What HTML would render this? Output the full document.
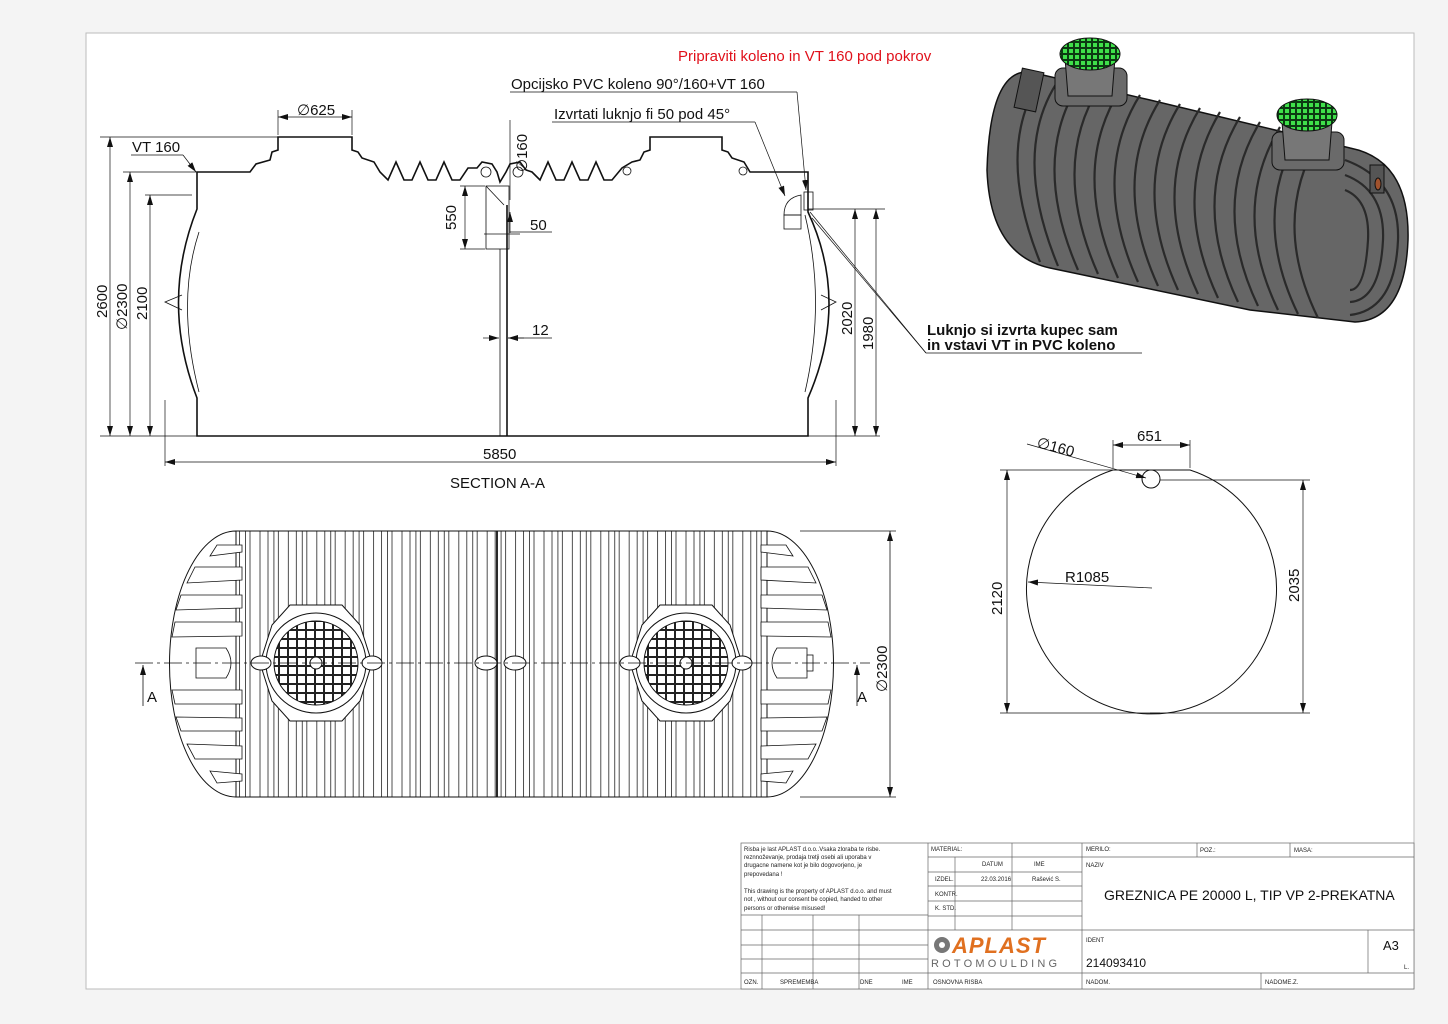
<!DOCTYPE html>
<html><head><meta charset="utf-8"><style>
html,body{margin:0;padding:0;background:#f4f4f4;}
svg{display:block;font-family:"Century Gothic","Liberation Sans",sans-serif;}
</style></head><body>
<svg width="1448" height="1024" viewBox="0 0 1448 1024" xmlns="http://www.w3.org/2000/svg">
<defs>
<pattern id="ribs" x="245" y="0" width="28.4" height="400" patternUnits="userSpaceOnUse">
<rect width="28.4" height="400" fill="#fff"/>
<g stroke="#222" stroke-width="0.8" fill="none">
<line x1="0.5" y1="0" x2="0.5" y2="400"/><line x1="5" y1="0" x2="5" y2="400"/>
<line x1="15" y1="0" x2="15" y2="400"/>
<line x1="23" y1="0" x2="23" y2="400"/>
</g></pattern>
<pattern id="grid" x="0" y="0" width="9" height="9" patternUnits="userSpaceOnUse">
<rect width="9" height="9" fill="#222"/><rect x="1" y="1" width="7" height="7" fill="#fff"/>
</pattern>
<pattern id="ggrid" x="0" y="0" width="6" height="6" patternUnits="userSpaceOnUse">
<rect width="6" height="6" fill="#0c3a12"/><rect x="1" y="1" width="4" height="4" fill="#3fe04a"/>
</pattern>
<marker id="ar" markerWidth="10" markerHeight="6" refX="10" refY="3" orient="auto-start-reverse" markerUnits="userSpaceOnUse"><path d="M0,0 L10,3 L0,6 Z" fill="#111"/></marker>
</defs>

<rect x="0" y="0" width="1448" height="1024" fill="#f4f4f4"/>
<rect x="86" y="33" width="1328" height="956" fill="#fff" stroke="#bbb" stroke-width="1"/>

<!-- ============ SECTION A-A ============ -->
<g fill="none" stroke="#111" stroke-width="1.6">
<path d="M197,436 L197,398 Q160,302 197,209 L197,172 L250,172 L256,164 L270,160 L272,152 L278,150 L278,137 L352,137 L352,150 L358,152 L362,158 L374,162 L380,172 L388,180 L396,162 L404,180 L412,180 L420,162 L428,180 L436,180 L444,162 L452,180 L460,180 L468,168 L477,168 L482,162 L492,164 L497,172 L500,182 L506,172 L510,164 L520,162 L526,170 L532,172 L540,180 L548,162 L556,180 L564,180 L572,162 L580,180 L588,180 L596,162 L604,180 L612,180 L622,168 L632,162 L640,160 L644,152 L650,150 L650,137 L722,137 L722,150 L728,152 L732,158 L744,162 L750,172 L808,172 L808,212 Q850,302 808,398 L808,436 Z"/>
</g>
<g fill="none" stroke="#111" stroke-width="0.8">
<path d="M199,232 Q176,302 199,392"/>
<path d="M805,215 Q826,302 805,392"/>
<path d="M182,295 L165,302 L182,310"/>
<path d="M821,295 L836,302 L821,310"/>
<circle cx="486" cy="172" r="5"/><circle cx="518" cy="172" r="5"/>
<circle cx="627" cy="171" r="4"/><circle cx="743" cy="171" r="4"/>
<rect x="486" y="186" width="23" height="63"/>
<line x1="486" y1="186" x2="504" y2="205"/>
<line x1="500" y1="249" x2="500" y2="436"/><line x1="507" y1="205" x2="507" y2="436" stroke-width="1.6"/>
<path d="M784,215 Q784,198 801,195 L801,215 Z"/><rect x="784" y="215" width="17" height="14"/>
<rect x="804" y="192" width="9" height="18"/>
</g>
<!-- section dims -->
<g stroke="#111" stroke-width="0.7" fill="none">
<line x1="100" y1="137" x2="278" y2="137"/><line x1="110" y1="137" x2="110" y2="436" marker-start="url(#ar)" marker-end="url(#ar)"/>
<line x1="123" y1="172" x2="197" y2="172"/><line x1="130" y1="172" x2="130" y2="436" marker-start="url(#ar)" marker-end="url(#ar)"/>
<line x1="145" y1="195" x2="192" y2="195"/><line x1="150" y1="195" x2="150" y2="436" marker-start="url(#ar)" marker-end="url(#ar)"/>
<line x1="100" y1="436" x2="197" y2="436"/>
<line x1="165" y1="400" x2="165" y2="466"/><line x1="836" y1="400" x2="836" y2="466"/>
<line x1="165" y1="462" x2="836" y2="462" marker-start="url(#ar)" marker-end="url(#ar)"/>
<line x1="278" y1="110" x2="278" y2="135"/><line x1="352" y1="110" x2="352" y2="135"/>
<line x1="278" y1="117" x2="352" y2="117" marker-start="url(#ar)" marker-end="url(#ar)"/>
<line x1="131" y1="155" x2="183" y2="155"/><line x1="183" y1="155" x2="196" y2="172" marker-end="url(#ar)"/>
<line x1="460" y1="186" x2="485" y2="186"/><line x1="460" y1="249" x2="485" y2="249"/>
<line x1="465" y1="186" x2="465" y2="249" marker-start="url(#ar)" marker-end="url(#ar)"/>
<line x1="510" y1="200" x2="510" y2="120"/><line x1="510" y1="233" x2="510" y2="212" marker-end="url(#ar)"/>
<line x1="510" y1="232" x2="552" y2="232"/>
<line x1="484" y1="234" x2="520" y2="234"/>
<line x1="483" y1="338" x2="499" y2="338" marker-end="url(#ar)"/><line x1="524" y1="338" x2="508" y2="338" marker-end="url(#ar)"/><line x1="508" y1="338" x2="552" y2="338"/>
<line x1="808" y1="209" x2="885" y2="209"/>
<line x1="855" y1="209" x2="855" y2="436" marker-start="url(#ar)" marker-end="url(#ar)"/>
<line x1="876" y1="209" x2="876" y2="436" marker-start="url(#ar)" marker-end="url(#ar)"/>
<line x1="808" y1="436" x2="880" y2="436"/>
<line x1="510" y1="92" x2="797" y2="92"/><line x1="797" y1="92" x2="806" y2="190" marker-end="url(#ar)"/>
<line x1="552" y1="122" x2="755" y2="122"/><line x1="755" y1="122" x2="785" y2="196" marker-end="url(#ar)"/>
<line x1="1142" y1="353" x2="926" y2="353"/><line x1="926" y1="353" x2="810" y2="212"/><line x1="926" y1="353" x2="812" y2="218"/>
</g>
<g font-size="15" fill="#111">
<text x="297" y="115">∅625</text>
<text x="132" y="152">VT 160</text>
<text x="511" y="89">Opcijsko PVC koleno 90°/160+VT 160</text>
<text x="554" y="119">Izvrtati luknjo fi 50 pod 45°</text>
<text x="678" y="61" fill="#e0101a">Pripraviti koleno in VT 160 pod pokrov</text>
<text x="530" y="230">50</text><text x="532" y="335">12</text>
<text x="483" y="459">5850</text>
<text x="450" y="488">SECTION A-A</text>
<text transform="translate(107,318) rotate(-90)">2600</text>
<text transform="translate(127,330) rotate(-90)">∅2300</text>
<text transform="translate(147,320) rotate(-90)">2100</text>
<text transform="translate(456,230) rotate(-90)">550</text>
<text transform="translate(527,172) rotate(-90)">∅160</text>
<text transform="translate(852,335) rotate(-90)">2020</text>
<text transform="translate(873,350) rotate(-90)">1980</text>
</g>
<g font-size="15" font-weight="bold" fill="#111">
<text x="927" y="335">Luknjo si izvrta kupec sam</text>
<text x="927" y="350">in vstavi VT in PVC koleno</text>
</g>

<!-- ============ PLAN VIEW ============ -->
<g stroke="#111" stroke-width="1" fill="#fff">
<path d="M236,531 A66,132 0 0 0 236,797 Z"/>
<path d="M767,531 A66,132 0 0 1 767,797 Z"/>
<rect x="236" y="531" width="531" height="266" fill="url(#ribs)"/>
<line x1="497" y1="531" x2="497" y2="797" stroke-width="1.8"/>
</g>
<g stroke="#111" stroke-width="0.8" fill="#fff">
<path d="M217,545 L242,545 L242,552 L210,556 Z"/>
<path d="M195,567 L242,567 L242,580 L187,583 Z"/>
<path d="M181,595 L242,595 L242,608 L176,610 Z"/>
<path d="M175,622 L242,622 L242,636 L172,637 Z"/>
<path d="M172,690 L242,690 L242,704 L175,704 Z"/>
<path d="M176,717 L242,718 L242,731 L181,731 Z"/>
<path d="M187,744 L242,746 L242,759 L195,759 Z"/>
<path d="M210,771 L242,774 L242,781 L217,783 Z"/>
<path d="M196,648 L226,648 Q236,663 226,678 L196,678 Z"/>
<path d="M786,545 L761,545 L761,552 L793,556 Z"/>
<path d="M808,567 L761,567 L761,580 L816,583 Z"/>
<path d="M822,595 L761,595 L761,608 L827,610 Z"/>
<path d="M828,622 L761,622 L761,636 L831,637 Z"/>
<path d="M831,690 L761,690 L761,704 L828,704 Z"/>
<path d="M827,717 L761,718 L761,731 L822,731 Z"/>
<path d="M816,744 L761,746 L761,759 L808,759 Z"/>
<path d="M793,771 L761,774 L761,781 L786,783 Z"/>
<path d="M807,648 L777,648 Q767,663 777,678 L807,678 Z"/>
<rect x="807" y="655" width="6" height="16"/>
</g>
<!-- manholes -->
<g stroke="#111" stroke-width="1" fill="#fff">
<path d="M290,605 L342,605 L360,625 L372,663 L360,701 L342,721 L290,721 L272,701 L260,663 L272,625 Z"/>
<circle cx="316" cy="663" r="50"/>
<circle cx="316" cy="663" r="42" fill="url(#grid)"/>
<path d="M660,605 L712,605 L730,625 L742,663 L730,701 L712,721 L660,721 L642,701 L630,663 L642,625 Z"/>
<circle cx="686" cy="663" r="50"/>
<circle cx="686" cy="663" r="42" fill="url(#grid)"/>
<circle cx="316" cy="663" r="6"/><circle cx="686" cy="663" r="6"/>
<ellipse cx="261" cy="663" rx="10" ry="7"/><ellipse cx="372" cy="663" rx="10" ry="7"/>
<ellipse cx="630" cy="663" rx="10" ry="7"/><ellipse cx="742" cy="663" rx="10" ry="7"/>
<ellipse cx="486" cy="663" rx="11" ry="7"/><ellipse cx="515" cy="663" rx="11" ry="7"/>
</g>
<g stroke="#111" stroke-width="0.8" fill="none">
<line x1="135" y1="663" x2="870" y2="663" stroke-dasharray="18,4,3,4"/>
<line x1="143" y1="706" x2="143" y2="665" marker-end="url(#ar)"/>
<line x1="857" y1="706" x2="857" y2="665" marker-end="url(#ar)"/>
<line x1="800" y1="531" x2="896" y2="531"/><line x1="800" y1="797" x2="896" y2="797"/>
<line x1="890" y1="531" x2="890" y2="797" marker-start="url(#ar)" marker-end="url(#ar)"/>
</g>
<g font-size="15" fill="#111">
<text x="147" y="702">A</text><text x="857" y="702">A</text>
<text transform="translate(887,692) rotate(-90)">∅2300</text>
</g>

<!-- ============ END VIEW ============ -->
<g stroke="#111" stroke-width="1" fill="none">
<path d="M1113,470 L1190,470 A125,125 0 1 1 1113,470 Z"/>
<circle cx="1151" cy="479" r="9"/>
<line x1="1000" y1="470" x2="1113" y2="470" stroke-width="0.7"/>
<line x1="1000" y1="713" x2="1160" y2="713" stroke-width="0.7"/>
<line x1="1160" y1="480" x2="1310" y2="480" stroke-width="0.7"/>
<line x1="1150" y1="713" x2="1310" y2="713" stroke-width="0.7"/>
<line x1="1007" y1="470" x2="1007" y2="713" stroke-width="0.7" marker-start="url(#ar)" marker-end="url(#ar)"/>
<line x1="1303" y1="480" x2="1303" y2="713" stroke-width="0.7" marker-start="url(#ar)" marker-end="url(#ar)"/>
<line x1="1113" y1="440" x2="1113" y2="468" stroke-width="0.7"/><line x1="1190" y1="440" x2="1190" y2="468" stroke-width="0.7"/>
<line x1="1113" y1="445" x2="1190" y2="445" stroke-width="0.7" marker-start="url(#ar)" marker-end="url(#ar)"/>
<line x1="1027" y1="444" x2="1146" y2="478" stroke-width="0.7" marker-end="url(#ar)"/>
<line x1="1152" y1="588" x2="1028" y2="582" stroke-width="0.7" marker-end="url(#ar)"/>
</g>
<g font-size="15" fill="#111">
<text x="1137" y="441">651</text>
<text x="1036" y="447" transform="rotate(15 1036 447)">∅160</text>
<text x="1065" y="582">R1085</text>
<text transform="translate(1002,615) rotate(-90)">2120</text>
<text transform="translate(1299,602) rotate(-90)">2035</text>
</g>

<!-- ============ 3D VIEW ============ -->
<g>
<path d="M1030,72 L1150,100 L1350,148 Q1410,160 1408,240 Q1405,320 1355,322 L1250,310 L1050,268 Q990,255 987,170 Q990,68 1030,72 Z" fill="#666" stroke="#111" stroke-width="1.5"/>
<g fill="none" stroke="#2a2a2a" stroke-width="2.2">
<path d="M1060,78 Q1010,150 1058,266"/><path d="M1080,82 Q1030,160 1078,270"/>
<path d="M1100,86 Q1050,165 1098,274"/><path d="M1120,90 Q1070,170 1118,278"/>
<path d="M1140,95 Q1090,175 1138,282"/><path d="M1160,100 Q1110,180 1158,286"/>
<path d="M1180,104 Q1130,185 1178,290"/><path d="M1200,108 Q1150,190 1198,294"/>
<path d="M1220,112 Q1170,195 1218,298"/><path d="M1240,117 Q1190,200 1238,302"/>
<path d="M1260,122 Q1210,205 1258,306"/><path d="M1280,127 Q1230,210 1278,310"/>
<path d="M1300,132 Q1250,215 1298,314"/><path d="M1320,137 Q1270,220 1318,318"/>
<path d="M1040,80 Q995,150 1040,262"/>
</g>
<g fill="none" stroke="#2a2a2a" stroke-width="2.2">
<path d="M1345,160 Q1400,180 1398,240 Q1395,310 1350,315"/>
<path d="M1345,175 Q1385,190 1383,240 Q1380,300 1350,302"/>
<path d="M1345,190 Q1370,200 1368,240 Q1365,290 1350,290"/>
</g>
<rect x="1018" y="70" width="22" height="40" fill="#555" stroke="#111" transform="rotate(12 1029 90)"/>
<rect x="1055" y="68" width="72" height="38" rx="8" fill="#6a6a6a" stroke="#111"/>
<path d="M1065,58 L1115,58 L1112,96 L1068,96 Z" fill="#777" stroke="#111"/>
<ellipse cx="1090" cy="54" rx="30" ry="16" fill="url(#ggrid)" stroke="#111"/>
<rect x="1272" y="132" width="72" height="38" rx="8" fill="#6a6a6a" stroke="#111"/>
<path d="M1282,122 L1332,122 L1329,160 L1285,160 Z" fill="#777" stroke="#111"/>
<ellipse cx="1307" cy="115" rx="30" ry="16" fill="url(#ggrid)" stroke="#111"/>
<rect x="1370" y="165" width="14" height="28" fill="#555" stroke="#111"/>
<ellipse cx="1378" cy="184" rx="3" ry="6" fill="#a0522d" stroke="#111"/>
</g>

<!-- ============ TITLE BLOCK ============ -->
<g stroke="#666" stroke-width="0.7" fill="none">
<rect x="741" y="843" width="673" height="146" fill="#fff"/>
<line x1="741" y1="915" x2="928" y2="915"/>
<line x1="741" y1="930" x2="1082" y2="930"/>
<line x1="741" y1="945" x2="928" y2="945"/>
<line x1="741" y1="959" x2="928" y2="959"/>
<line x1="741" y1="973" x2="1414" y2="973"/>
<line x1="928" y1="843" x2="928" y2="989"/>
<line x1="1082" y1="843" x2="1082" y2="989"/>
<line x1="762" y1="915" x2="762" y2="989"/>
<line x1="813" y1="915" x2="813" y2="989"/>
<line x1="859" y1="915" x2="859" y2="989"/>
<line x1="955" y1="857" x2="955" y2="930"/>
<line x1="1012" y1="843" x2="1012" y2="930"/>
<line x1="928" y1="857" x2="1082" y2="857"/>
<line x1="928" y1="872" x2="1082" y2="872"/>
<line x1="928" y1="886" x2="1082" y2="886"/>
<line x1="928" y1="901" x2="1082" y2="901"/>
<line x1="928" y1="916" x2="1082" y2="916"/>
<line x1="1082" y1="857" x2="1414" y2="857"/>
<line x1="1082" y1="930" x2="1414" y2="930"/>
<line x1="1197" y1="843" x2="1197" y2="857"/>
<line x1="1290" y1="843" x2="1290" y2="857"/>
<line x1="1368" y1="930" x2="1368" y2="973"/>
<line x1="1261" y1="973" x2="1261" y2="989"/>
</g>
<g font-size="6" fill="#222">
<text x="744" y="851">Risba je last APLAST d.o.o..Vsaka zloraba te risbe.</text>
<text x="744" y="859">reznnoževanje, prodaja tretji osebi ali uporaba v</text>
<text x="744" y="867">drugacne namene kot je bilo dogovorjeno, je</text>
<text x="744" y="876">prepovedana !</text>
<text x="744" y="893">This drawing is the property of APLAST d.o.o. and must</text>
<text x="744" y="901">not , without our consent be copied, handed to other</text>
<text x="744" y="910">persons or otherwise misused!</text>
<text x="931" y="851">MATERIAL:</text>
<text x="982" y="866">DATUM</text><text x="1034" y="866">IME</text>
<text x="935" y="881">IZDEL.</text><text x="981" y="881">22.03.2016</text><text x="1032" y="881">Rašević S.</text>
<text x="935" y="896">KONTR.</text><text x="935" y="910">K. STD.</text>
<text x="1086" y="851">MERILO:</text><text x="1200" y="852">POZ.:</text><text x="1294" y="852">MASA:</text>
<text x="1086" y="867">NAZIV</text>
<text x="1086" y="942">IDENT</text>
<text x="1404" y="969">L.</text>
<text x="744" y="984">OZN.</text><text x="780" y="984">SPREMEMBA</text><text x="860" y="984">DNE</text><text x="902" y="984">IME</text>
<text x="933" y="984">OSNOVNA RISBA</text><text x="1086" y="984">NADOM.</text><text x="1265" y="984">NADOME.Z.</text>
</g>
<text x="1104" y="900" font-size="14" fill="#111">GREZNICA  PE 20000 L, TIP VP  2-PREKATNA</text>
<text x="1086" y="967" font-size="12" fill="#111">214093410</text>
<text x="1383" y="950" font-size="13" fill="#111">A3</text>
<circle cx="942" cy="945" r="8" fill="#777"/><circle cx="942" cy="945" r="3" fill="#fff"/>
<text x="952" y="953" font-size="22" font-weight="bold" font-style="italic" fill="#e07020" letter-spacing="1">APLAST</text>
<text x="931" y="967" font-size="11" fill="#666" letter-spacing="3.2">ROTOMOULDING</text>
</svg>
</body></html>
